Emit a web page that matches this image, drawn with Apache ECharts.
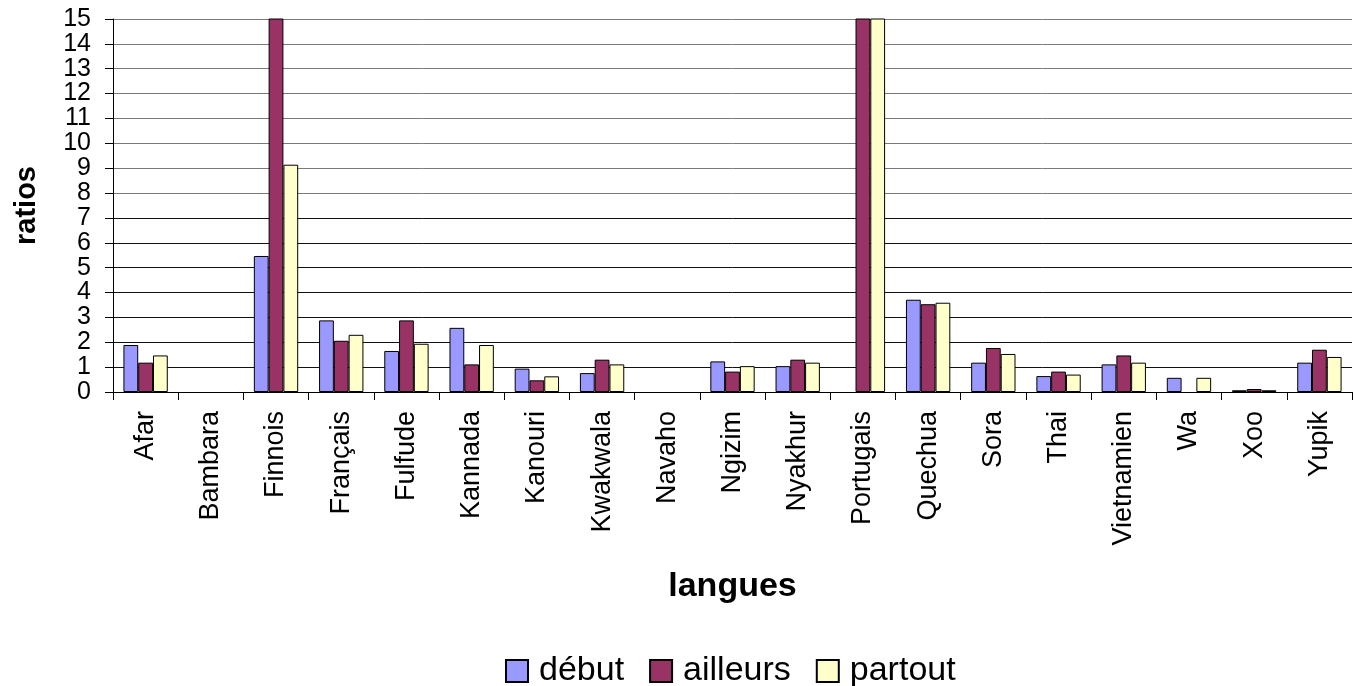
<!DOCTYPE html>
<html>
<head>
<meta charset="utf-8">
<script src="https://cdn.jsdelivr.net/npm/echarts@6/dist/echarts.min.js"></script>
<style>
  html, body { margin: 0; padding: 0; background: #fff; }
  #chart { width: 1354px; height: 686px; }
</style>
</head>
<body>
<div id="chart"></div>
<script>
// langues
const categories = ['Afar', 'Bambara', 'Finnois', 'Français', 'Fulfude', 'Kannada', 'Kanouri',
  'Kwakwala', 'Navaho', 'Ngizim', 'Nyakhur', 'Portugais', 'Quechua', 'Sora', 'Thai',
  'Vietnamien', 'Wa', 'Xoo', 'Yupik'];

// ratios (valeurs > 15 coupées en haut du graphique)
const debut    = [1.89, null, 5.47, 2.88, 1.65, 2.58, 0.94, 0.76, null, 1.23, 1.04, null, 3.71, 1.18, 0.64, 1.11, 0.57, 0.07, 1.18];
const ailleurs = [1.18, null, 16,   2.06, 2.88, 1.11, 0.47, 1.30, null, 0.82, 1.30, 16,   3.53, 1.77, 0.82, 1.47, null, 0.12, 1.70];
const partout  = [1.47, null, 9.14, 2.30, 1.94, 1.89, 0.63, 1.11, null, 1.04, 1.18, 16,   3.59, 1.53, 0.70, 1.18, 0.57, 0.07, 1.41];

const yTicks = { min: 0, max: 15, interval: 1 };

const font = 'Liberation Sans, Arial, sans-serif';
const chart = echarts.init(document.getElementById('chart'));

const barSeries = (name, data, color) => ({
  name: name,
  type: 'bar',
  data: data,
  barGap: '0%',
  barCategoryGap: '32%',
  clip: true,
  itemStyle: { color: color, borderColor: '#000', borderWidth: 1 }
});

// lignes du haut plus claires, comme dans l'original
const gridColors = [];
for (let v = yTicks.min; v <= yTicks.max; v += yTicks.interval) {
  gridColors.push(v >= 8 ? '#7a7a7a' : '#111');
}

chart.setOption({
  animation: false,
  textStyle: { fontFamily: font, color: '#000' },
  grid: { left: 113, right: 2, top: 19, bottom: 294, outerBoundsMode: 'none' },
  legend: {
    top: 649,
    left: 500,
    itemWidth: 22,
    itemHeight: 22,
    itemGap: 25,
    icon: 'rect',
    textStyle: { fontSize: 34, fontFamily: font, color: '#000', padding: [0, 0, 0, 6] },
    data: ['début', 'ailleurs', 'partout']
  },
  xAxis: {
    type: 'category',
    data: categories,
    name: 'langues',
    nameLocation: 'middle',
    nameGap: 178,
    nameMoveOverlap: false,
    nameTextStyle: { fontSize: 34, fontWeight: 'bold', fontFamily: font, color: '#000' },
    axisLine: { lineStyle: { color: '#000', width: 1 } },
    axisTick: { show: true, length: 8, lineStyle: { color: '#000' } },
    axisLabel: { rotate: 90, fontSize: 27, margin: 19, color: '#000', fontFamily: font, interval: 0 }
  },
  yAxis: {
    type: 'value',
    min: yTicks.min,
    max: yTicks.max,
    interval: yTicks.interval,
    name: 'ratios',
    nameLocation: 'middle',
    nameGap: 72,
    nameRotate: 90,
    nameMoveOverlap: false,
    nameTextStyle: { fontSize: 29, fontWeight: 'bold', fontFamily: font, color: '#000' },
    axisLine: { show: true, lineStyle: { color: '#000', width: 1 } },
    axisTick: { show: true, length: 8, lineStyle: { color: '#000' } },
    axisLabel: { fontSize: 25, margin: 22, color: '#000', fontFamily: font },
    splitLine: { show: true, lineStyle: { color: gridColors, width: 1 } }
  },
  series: [
    barSeries('début', debut, '#9999FF'),
    barSeries('ailleurs', ailleurs, '#993366'),
    barSeries('partout', partout, '#FFFFCC')
  ]
});
</script>
</body>
</html>
